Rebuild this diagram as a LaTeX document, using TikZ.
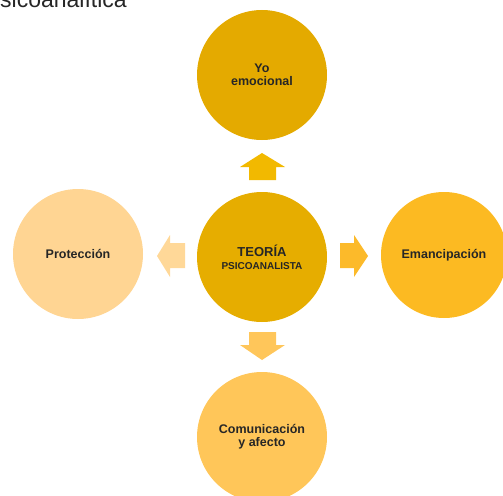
\documentclass[tikz,border=0pt]{standalone}
\usepackage{fontspec}
\setmainfont{Liberation Sans}
\definecolor{cTop}{HTML}{E4AA00}
\definecolor{cMid}{HTML}{E6AD00}
\definecolor{cRight}{HTML}{FCBA22}
\definecolor{cBot}{HTML}{FFC659}
\definecolor{cLeft}{HTML}{FFD593}
\definecolor{aUp}{HTML}{F2B900}
\definecolor{aRight}{HTML}{FCBA2A}
\definecolor{aDown}{HTML}{FFC65A}
\definecolor{aLeft}{HTML}{FFD898}
\begin{document}
\begin{tikzpicture}[x=1pt,y=-1pt,
  bubble/.style={circle,minimum size=130pt,inner sep=0pt,align=center,
    font=\bfseries\fontsize{12.5}{13}\selectfont,text=black!85},
  thick arrow/.style={draw=none}]
\useasboundingbox (0,0) rectangle (503,495);
\clip (0,0) rectangle (503,495);
% cut-off caption at top
\node[anchor=base east,inner sep=0pt,font=\fontsize{23}{23}\selectfont,text=black!85] (cap) at (127,7.5) {psicoanalítica};
% circles
\node[bubble,fill=cTop] (yo) at (262,75) {Yo\\emocional};
\node[bubble,fill=cMid] (teo) at (262,257) {\fontsize{13}{11}\selectfont TEORÍA\\\fontsize{10}{11}\selectfont PSICOANALISTA};
\node[bubble,fill=cRight,minimum size=126pt] (eman) at (444,255) {Emancipación};
\node[bubble,fill=cLeft] (prot) at (78,254) {Protección};
\node[bubble,fill=cBot] (com) at (262,437) {Comunicación\\y afecto};
% block arrows
\fill[aUp] (262,153) -- (285,167) -- (276,167) -- (276,180) -- (249,180) -- (249,167) -- (240,167) -- cycle;
\fill[aLeft] (157,256) -- (170,235) -- (170,243) -- (185,243) -- (185,268) -- (170,268) -- (170,277) -- cycle;
\fill[aRight] (368,256) -- (354,235) -- (354,243) -- (340,243) -- (340,268) -- (354,268) -- (354,277) -- cycle;
\fill[aDown] (262,360) -- (285,345) -- (276,345) -- (276,332) -- (249,332) -- (249,345) -- (240,345) -- cycle;
\end{tikzpicture}
\end{document}
